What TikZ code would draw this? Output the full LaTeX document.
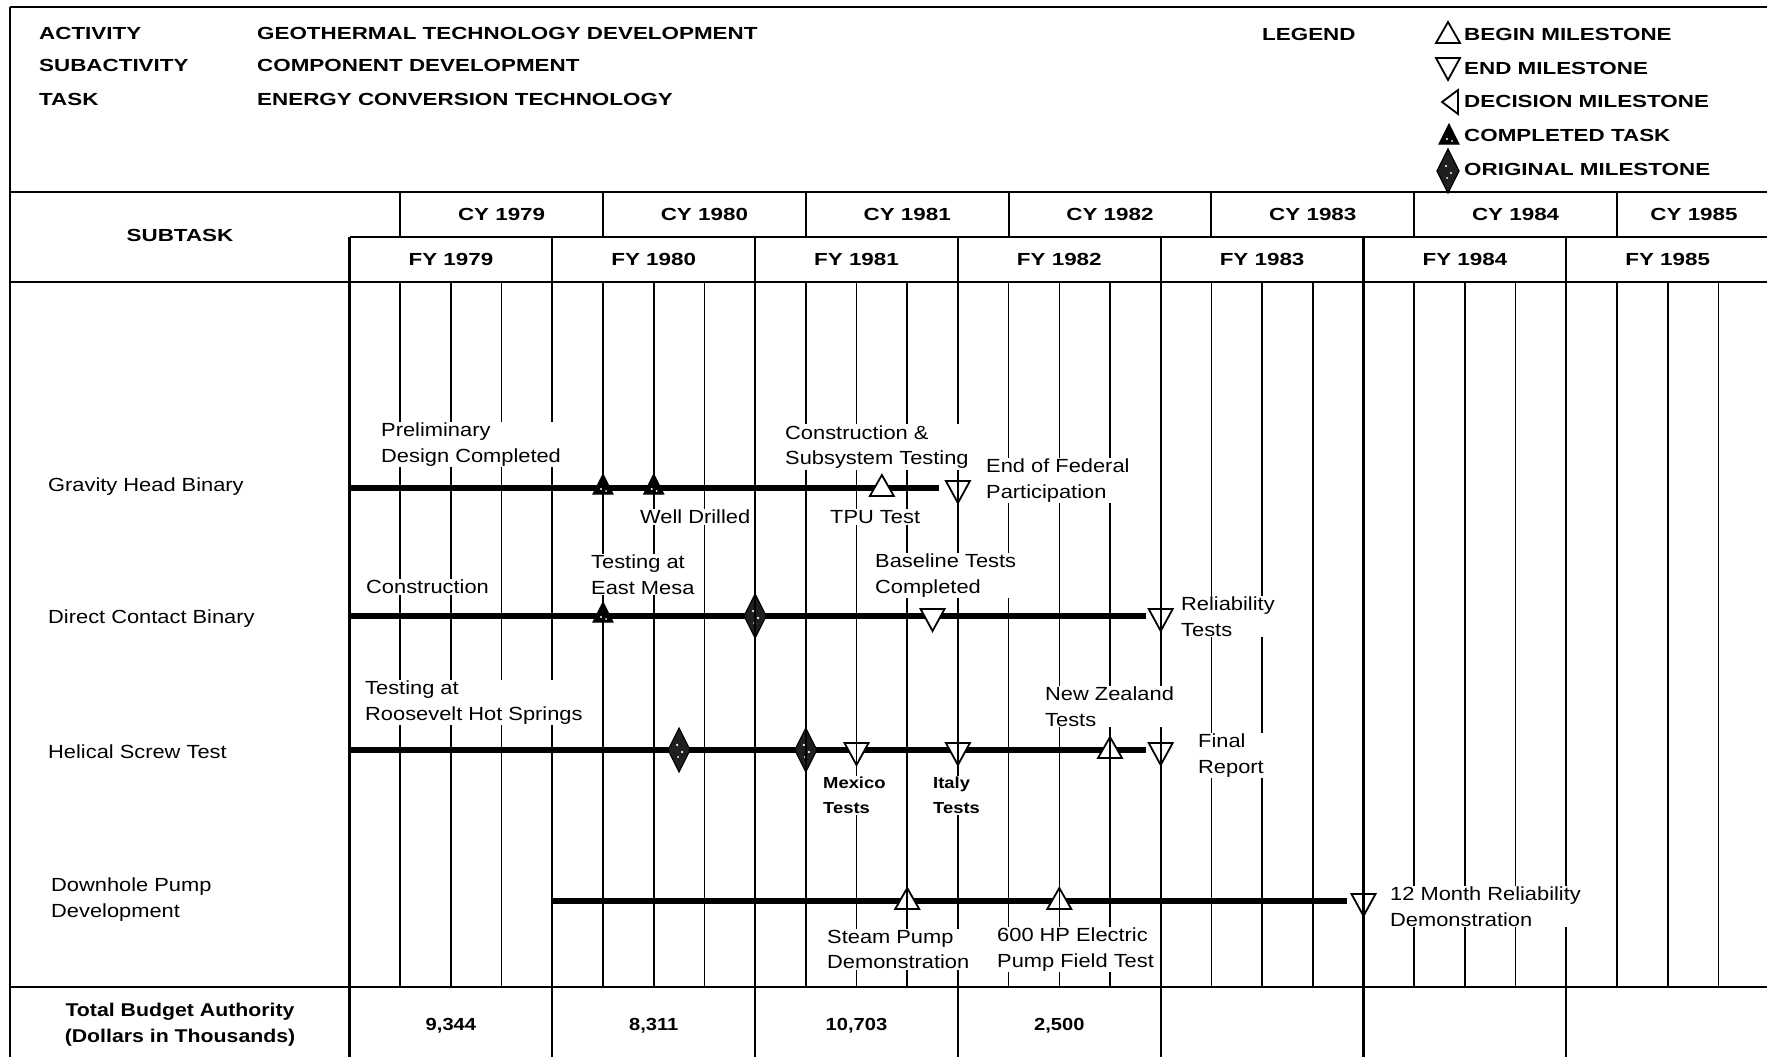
\documentclass[tikz,border=0pt]{standalone}
\usepackage{fontspec}
\setmainfont{Liberation Sans}
\newfontfamily\hdfont[FakeStretch=1.28]{Liberation Sans}
\newfontfamily\lbfont[FakeStretch=1.15]{Liberation Sans}
\begin{document}
\begin{tikzpicture}[x=1pt,y=-1pt,
  frame/.style={line width=2.4pt},
  yr/.style={line width=2.1pt},
  qt/.style={line width=1.6pt},
  bar/.style={line width=5.5pt},
  hd/.style={font=\hdfont\bfseries\fontsize{17.5}{20}\selectfont, inner sep=0pt},
  lb/.style={font=\lbfont\fontsize{19}{25.5}\selectfont, fill=white, inner sep=1pt, align=left, anchor=west},
  lbb/.style={lb, font=\lbfont\bfseries\fontsize{16}{25}\selectfont},
  rowlab/.style={font=\lbfont\fontsize{19}{26}\selectfont, inner sep=0pt, align=left, anchor=west},
  bud/.style={font=\lbfont\bfseries\fontsize{18.5}{26}\selectfont, inner sep=0pt, align=center},
  num/.style={font=\lbfont\bfseries\fontsize{17.5}{20}\selectfont, inner sep=0pt},
  begin ms/.pic={\draw[line width=1.8pt,fill=white] (-12,8) -- (12,8) -- (0,-13) -- cycle;},
  end ms/.pic={\draw[line width=1.8pt,fill=white] (-12,-7) -- (12,-7) -- (0,15) -- cycle;},
  done ms/.pic={\draw[line width=1pt,fill=black] (-10,6) -- (10,6) -- (0,-14) -- cycle;
                \fill[white] (-2,1) circle (1.2pt) (3,3) circle (1pt);},
  orig ms/.pic={\draw[line width=1.2pt,fill=black!88] (0,-22) -- (11,0) -- (0,22) -- (-11,0) -- cycle;
                \fill[white] (-2,-5) circle (1.2pt) (3,2) circle (1.2pt) (-1,7) circle (1pt);},
  dec ms/.pic={\draw[line width=1.8pt,fill=white] (8,-12) -- (8,12) -- (-8,0) -- cycle;}
]
\def\X{349.5}
\def\Q{50.7}
\useasboundingbox (0,0) rectangle (1767,1057);
\fill[white] (0,0) rectangle (1767,1057);

% ---------- bars ----------
\coordinate (gS) at (349.5,488);  \coordinate (gE) at (939,488);
\coordinate (dS) at (349.5,616);  \coordinate (dE) at (1146,616);
\coordinate (hS) at (349.5,750);  \coordinate (hE) at (1146,750);
\coordinate (pS) at (552.3,901);  \coordinate (pE) at (1347,901);
\draw[bar] (gS) -- (gE);
\draw[bar] (dS) -- (dE);
\draw[bar] (hS) -- (hE);
\draw[bar] (pS) -- (pE);

% ---------- milestones ----------
\coordinate (g1) at (603.0,488);  \pic at (g1) {done ms};
\coordinate (g2) at (653.7,488);  \pic at (g2) {done ms};
\coordinate (g3) at (881.85,488); \pic at (g3) {begin ms};
\coordinate (g4) at (957.9,488);  \pic at (g4) {end ms};

\coordinate (d1) at (603.0,616);  \pic at (d1) {done ms};
\coordinate (d2) at (755.1,616);  \pic at (d2) {orig ms};
\coordinate (d3) at (932.55,616); \pic at (d3) {end ms};
\coordinate (d4) at (1160.7,616); \pic at (d4) {end ms};

\coordinate (h1) at (679.05,750); \pic at (h1) {orig ms};
\coordinate (h2) at (805.8,750);  \pic at (h2) {orig ms};
\coordinate (h3) at (856.5,750);  \pic at (h3) {end ms};
\coordinate (h4) at (957.9,750);  \pic at (h4) {end ms};
\coordinate (h5) at (1110.0,750); \pic at (h5) {begin ms};
\coordinate (h6) at (1160.7,750); \pic at (h6) {end ms};

\coordinate (p1) at (907.2,901);  \pic at (p1) {begin ms};
\coordinate (p2) at (1059.3,901); \pic at (p2) {begin ms};
\coordinate (p3) at (1363.5,901); \pic at (p3) {end ms};

% ---------- grid ----------
\draw[frame] (10,7) -- (1767,7);
\draw[frame] (10,7) -- (10,1057);
\draw[frame] (10,192) -- (1767,192);
\draw[frame] (\X,237) -- (1767,237);
\draw[frame] (10,282) -- (1767,282);
\draw[frame] (10,987) -- (1767,987);
\foreach \i in {0,...,27}{
  \pgfmathsetmacro\xx{\X+\i*\Q}
  \pgfmathtruncatemacro\m{mod(\i,4)}
  \ifnum\m=0 \draw[yr] (\xx,237) -- (\xx,1057);
  \else \draw[qt] (\xx,282) -- (\xx,987); \fi
}
\foreach \i in {1,5,9,13,17,21,25}{
  \pgfmathsetmacro\xx{\X+\i*\Q}
  \draw[yr] (\xx,192) -- (\xx,237);
}

% ---------- header ----------
\node[hd,anchor=west] (kact) at (39,33) {ACTIVITY};
\node[hd,anchor=west] (ksub) at (39,65) {SUBACTIVITY};
\node[hd,anchor=west] (ktask) at (39,99) {TASK};
\node[hd,anchor=west] (vact) at (257,33) {GEOTHERMAL TECHNOLOGY DEVELOPMENT};
\node[hd,anchor=west] (vsub) at (257,65) {COMPONENT DEVELOPMENT};
\node[hd,anchor=west] (vtask) at (257,99) {ENERGY CONVERSION TECHNOLOGY};
\node[hd,anchor=west] (legend) at (1262,34) {LEGEND};

\coordinate (lg1) at (1448,35);  \pic at (lg1) {begin ms};
\coordinate (lg2) at (1448,65);  \pic at (lg2) {end ms};
\coordinate (lg3) at (1450,102); \pic at (lg3) {dec ms};
\coordinate (lg4) at (1449,138); \pic at (lg4) {done ms};
\coordinate (lg5) at (1448,171); \pic at (lg5) {orig ms};
\node[hd,anchor=west] (t1) at (1464,34) {BEGIN MILESTONE};
\node[hd,anchor=west] (t2) at (1464,68) {END MILESTONE};
\node[hd,anchor=west] (t3) at (1464,101) {DECISION MILESTONE};
\node[hd,anchor=west] (t4) at (1464,135) {COMPLETED TASK};
\node[hd,anchor=west] (t5) at (1464,169) {ORIGINAL MILESTONE};

\node[hd] (subtask) at (180,235) {SUBTASK};
\foreach \yy/\c in {1979/3,1980/7,1981/11,1982/15,1983/19,1984/23}{
  \node[hd] (cy\yy) at ({\X+\c*\Q},214.5) {CY \yy};
}
\node[hd] (cy1985) at (1694,214.5) {CY 1985};
\foreach \yy/\c in {1979/2,1980/6,1981/10,1982/14,1983/18,1984/22,1985/26}{
  \node[hd] (fy\yy) at ({\X+\c*\Q},259.5) {FY \yy};
}

% ---------- row labels ----------
\node[rowlab] (rg) at (48,487) {Gravity Head Binary};
\node[rowlab] (rd) at (48,619) {Direct Contact Binary};
\node[rowlab] (rh) at (48,752) {Helical Screw Test};
\node[rowlab] (rp) at (51,900) {Downhole Pump\\Development};

% ---------- milestone labels ----------
\node[lb] (lprelim) at (380,444.5) {Preliminary\\Design Completed};
\node[lb] (lwell) at (639,517) {Well Drilled};
\node[lb] (lcons) at (784,447) {Construction \&\\Subsystem Testing};
\node[lb] (ltpu) at (829,517) {TPU Test};
\node[lb] (leof) at (985,480.5) {End of Federal\\Participation};

\node[lb] (lconstr) at (365,587) {Construction};
\node[lb] (lmesa) at (590,574.5) {Testing at\\East Mesa};
\node[lb] (lbase) at (874,575.5) {Baseline Tests\\Completed};
\node[lb] (lrel) at (1180,616.5) {Reliability\\Tests};

\node[lb] (lroos) at (364,702.5) {Testing at\\Roosevelt Hot Springs};
\node[lbb] (lmex) at (822,795.5) {Mexico\\Tests};
\node[lbb] (lita) at (932,795.5) {Italy\\Tests};
\node[lb] (lnz) at (1044,706.5) {New Zealand\\Tests};
\node[lb] (lfin) at (1197,755.5) {Final\\Report};

\node[lb] (lsteam) at (826,949.5) {Steam Pump\\Demonstration};
\node[lb] (l600) at (996,949.5) {600 HP Electric\\Pump Field Test};
\node[lb] (l12m) at (1389,906.5) {12 Month Reliability\\Demonstration};

% ---------- budget ----------
\node[bud] (budlab) at (180,1025) {Total Budget Authority\\(Dollars in Thousands)};
\node[num] (b79) at (450.9,1026) {9,344};
\node[num] (b80) at (653.7,1026) {8,311};
\node[num] (b81) at (856.5,1026) {10,703};
\node[num] (b82) at (1059.3,1026) {2,500};
\end{tikzpicture}
\end{document}
